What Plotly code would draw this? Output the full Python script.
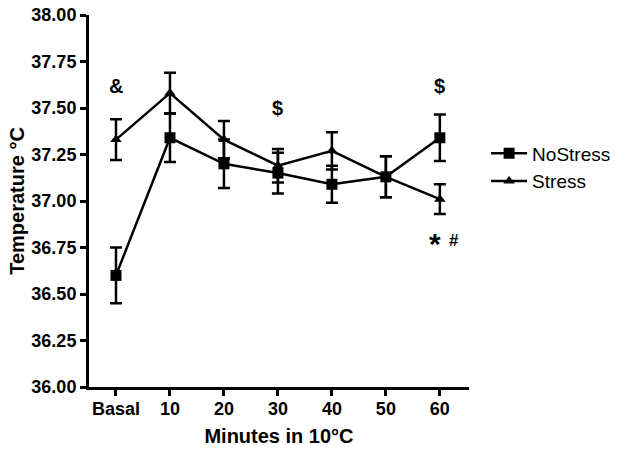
import plotly.graph_objects as go

categories = ["Basal", "10", "20", "30", "40", "50", "60"]
nostress = [36.60, 37.34, 37.20, 37.15, 37.09, 37.13, 37.34]
nostress_err = [0.15, 0.13, 0.13, 0.11, 0.10, 0.11, 0.125]
stress = [37.33, 37.58, 37.33, 37.19, 37.27, 37.13, 37.01]
stress_err = [0.11, 0.11, 0.10, 0.09, 0.10, 0.11, 0.08]
y_ticks = [36.00, 36.25, 36.50, 36.75, 37.00, 37.25, 37.50, 37.75, 38.00]

annots = [("Basal", 37.62, "&amp;"), ("30", 37.50, "&#36;"), ("60", 37.62, "&#36;")]

xpos = list(range(len(categories)))
FONT = "Liberation Sans, Arial"

fig = go.Figure()
fig.add_trace(go.Scatter(
    x=xpos, y=nostress, name="NoStress", mode="lines+markers",
    line=dict(color="black", width=2.5),
    marker=dict(symbol="square", size=11, color="black"),
    error_y=dict(type="data", array=nostress_err, color="black", thickness=2.5, width=6),
))
fig.add_trace(go.Scatter(
    x=xpos, y=stress, name="Stress", mode="lines+markers",
    line=dict(color="black", width=2.5),
    marker=dict(symbol="triangle-up", size=10, color="black"),
    error_y=dict(type="data", array=stress_err, color="black", thickness=2.5, width=6),
))

for cat, yv, txt in annots:
    fig.add_annotation(x=categories.index(cat), y=yv, text="<b>" + txt + "</b>", showarrow=False,
                       font=dict(size=20, color="black", family=FONT))
fig.add_annotation(x=categories.index("60") - 0.09, y=36.77, text="<b>*</b>", showarrow=False,
                   font=dict(size=30, color="black", family=FONT), yanchor="middle")
fig.add_annotation(x=categories.index("60") + 0.26, y=36.785, text="<b>#</b>", showarrow=False,
                   font=dict(size=17, color="black", family=FONT))

fig.update_layout(
    width=625, height=454,
    margin=dict(l=89, r=156, t=15, b=67, autoexpand=False),
    plot_bgcolor="white", paper_bgcolor="white",
    font=dict(family=FONT, color="black"),
    showlegend=True,
    legend=dict(x=1.045, y=0.59, xanchor="left", yanchor="middle",
                font=dict(size=19, color="black"), bgcolor="rgba(0,0,0,0)",
                tracegroupgap=2, itemwidth=36),
    xaxis=dict(
        range=[-0.5, 6.54], tickmode="array", tickvals=xpos,
        ticktext=["<b>" + c + "</b>" for c in categories],
        showline=True, linecolor="black", linewidth=3, mirror=False,
        ticks="outside", ticklen=6, tickwidth=3, tickcolor="black",
        showgrid=False, zeroline=False, tickfont=dict(size=18), automargin=False,
        ticklabelstandoff=-3,
        title=dict(text="<b>Minutes in 10°C</b>", font=dict(size=20), standoff=12),
    ),
    yaxis=dict(
        range=[36.0, 38.0], tickmode="array", tickvals=y_ticks,
        ticktext=["<b>%.2f</b>" % v for v in y_ticks],
        showline=True, linecolor="black", linewidth=3,
        ticks="outside", ticklen=6, tickwidth=3, tickcolor="black",
        showgrid=False, zeroline=False, tickfont=dict(size=18), automargin=False,
        title=dict(text="<b>Temperature °C</b>", font=dict(size=20), standoff=2),
    ),
)

fig.write_html("out.html", config={"displayModeBar": False},
               post_script="document.body.style.margin='0';document.body.style.padding='0';")
